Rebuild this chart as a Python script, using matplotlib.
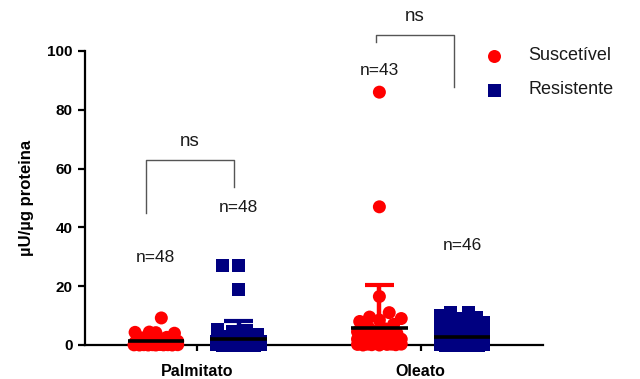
import numpy as np
import matplotlib
matplotlib.use("Agg")
import matplotlib.pyplot as plt
from matplotlib.lines import Line2D

plt.rcParams['font.family'] = ['Liberation Sans', 'DejaVu Sans']

# ---- data -----------------------------------------------------------------
categories = ["Palmitato", "Oleato"]
series_names = ["Suscetível", "Resistente"]
series_colors = ["#FF0000", "#000080"]
series_markers = ["o", "s"]

palmitato_suscetivel = [9.2, 4.4, 4.2, 4.0, 4.3, 2.6, 2.4, 2.2, 2.0, 1.9,
                        1.8, 1.7, 1.6, 1.5, 1.4, 1.3, 1.2, 1.1, 1.0, 1.0,
                        0.9, 0.9, 0.8, 0.8, 0.7, 0.7, 0.6, 0.6, 0.5, 0.5,
                        0.4, 0.4, 0.3, 0.3, 0.3, 0.2, 0.2, 0.2, 0.1, 0.1,
                        0.1, 0.1, 0.05, 0.05, 0.0, 0.0, 0.0, 0.0]
palmitato_resistente = [27.0, 27.0, 19.0, 5.2, 5.0, 4.6, 4.0, 3.5, 3.0, 2.6,
                        2.4, 2.2, 2.0, 1.9, 1.8, 1.6, 1.5, 1.4, 1.3, 1.2,
                        1.1, 1.0, 0.9, 0.9, 0.8, 0.7, 0.7, 0.6, 0.5, 0.5,
                        0.4, 0.4, 0.3, 0.3, 0.2, 0.2, 0.2, 0.1, 0.1, 0.1,
                        0.05, 0.05, 0.05, 0.0, 0.0, 0.0, 0.0, 0.0]
oleato_suscetivel = [86.0, 47.0, 16.5, 11.0, 9.5, 9.0, 8.5, 8.0, 7.0, 6.0,
                     5.5, 5.0, 4.5, 4.0, 3.5, 3.0, 3.0, 2.5, 2.5, 2.0,
                     2.0, 2.0, 1.5, 1.5, 1.5, 1.0, 1.0, 1.0, 1.0, 0.8,
                     0.8, 0.5, 0.5, 0.5, 0.3, 0.3, 0.3, 0.2, 0.2, 0.1,
                     0.1, 0.0, 0.0]
oleato_resistente = [11.0, 11.0, 10.0, 9.5, 9.0, 8.5, 8.0, 7.5, 7.0, 6.5,
                     6.0, 5.5, 5.0, 5.0, 4.5, 4.0, 4.0, 3.5, 3.0, 3.0,
                     2.5, 2.5, 2.0, 2.0, 1.5, 1.5, 1.0, 1.0, 1.0, 0.8,
                     0.8, 0.5, 0.5, 0.5, 0.3, 0.3, 0.2, 0.2, 0.1, 0.1,
                     0.1, 0.0, 0.0, 0.0, 0.0, 0.0]

# mean and SD (upper arm) per series: [Palmitato, Oleato]
mean_suscetivel = [1.2, 5.8]
sd_suscetivel = [0.0, 14.6]
mean_resistente = [2.0, 2.7]
sd_resistente = [6.2, 0.0]

n_suscetivel = ["n=48", "n=43"]
n_resistente = ["n=48", "n=46"]

values = [[palmitato_suscetivel, oleato_suscetivel],
          [palmitato_resistente, oleato_resistente]]
means = [mean_suscetivel, mean_resistente]
sds = [sd_suscetivel, sd_resistente]
n_labels = [n_suscetivel, n_resistente]

# ---- figure ---------------------------------------------------------------
fig = plt.figure(figsize=(6.4, 3.79), dpi=100)
ax = fig.add_axes([85 / 640, 34 / 379, 458 / 640, 294 / 379])
ax.set_xlim(-0.502, 1.547)
ax.set_ylim(0, 100)

px_per_x = 225.0           # pixels per category unit
px_per_y = 294 / 100.0     # pixels per y unit
offset = 0.185
marker_d = 13.0            # marker diameter in pixels


def swarm_offsets(vals, diam, half_width):
    """Greedy beeswarm in pixel space; returns x offsets in data units."""
    vals = np.asarray(vals, dtype=float)
    order = np.argsort(vals, kind="stable")
    cands = np.linspace(-half_width, half_width, 41)
    cands = cands[np.argsort(np.abs(cands), kind="stable")]
    min_d = 1.2 * diam
    placed = []
    out = np.zeros(len(vals))
    for i in order:
        y = vals[i] * px_per_y
        best = 0.0
        if placed:
            P = np.array(placed)
            best = None
            best_score = -1
            for c in cands:
                d = np.sqrt((P[:, 0] - c) ** 2 + (P[:, 1] - y) ** 2).min()
                if d >= min_d:
                    best = c
                    break
                if d > best_score + 0.5:
                    best_score, fallback = d, c
            if best is None:
                best = fallback
        placed.append((best, y))
        out[i] = best / px_per_x
    return out


for s in range(2):
    for c in range(2):
        vals = values[s][c]
        xc = c + (-offset if s == 0 else offset)
        dx = swarm_offsets(vals, marker_d, 22)
        ax.scatter(xc + dx, vals, s=(marker_d * 0.72) ** 2,
                   marker=series_markers[s], color=series_colors[s],
                   edgecolors="none", zorder=3, clip_on=False)
        m, sd = means[s][c], sds[s][c]
        if sd > 0:
            ax.plot([xc, xc], [m, m + sd], color=series_colors[s],
                    lw=3.2, zorder=4, solid_capstyle="butt")
            ax.plot([xc - 0.064, xc + 0.064], [m + sd, m + sd],
                    color=series_colors[s], lw=3.0, zorder=4,
                    solid_capstyle="butt")
        ax.plot([xc - 0.126, xc + 0.126], [m, m], color="black", lw=2.6,
                zorder=5, solid_capstyle="butt")

# n labels above each group
n_label_y = [[29.6, 93.2], [46.6, 34.0]]
for s in range(2):
    for c in range(2):
        xc = c + (-offset if s == 0 else offset)
        ax.text(xc, n_label_y[s][c], n_labels[s][c], ha="center",
                va="center", fontsize=12.5, color="#1a1a1a")

# significance brackets
bracket_color = "#555555"
brackets = [
    # x_left, x_right, y_left_bottom, y_right_bottom, y_top
    (-0.231, 0.164, 44.9, 53.7, 62.9),
    (0.800, 1.147, 103.1, 87.8, 105.4),
]
for xl, xr, yl, yr, yt in brackets:
    ax.plot([xl, xl, xr, xr], [yl, yt, yt, yr], color=bracket_color,
            lw=1.0, clip_on=False, zorder=2)
    ax.text((xl + xr) / 2, yt + 3.5, "ns", ha="center", va="bottom",
            fontsize=13.5, color="#1a1a1a", clip_on=False)

# axes styling
for side in ("top", "right"):
    ax.spines[side].set_visible(False)
for side in ("left", "bottom"):
    ax.spines[side].set_linewidth(1.6)
ax.set_yticks([0, 20, 40, 60, 80, 100])
ax.set_xticks([0, 1])
ax.set_xticklabels(categories)
ax.tick_params(axis="y", length=5, width=1.6, labelsize=11, pad=4)
ax.tick_params(axis="x", length=4.5, width=1.6, labelsize=11.5, pad=9)
for lab in ax.get_yticklabels() + ax.get_xticklabels():
    lab.set_fontweight("bold")
ax.set_ylabel("µU/µg proteina", fontsize=12, fontweight="bold", labelpad=9)

# legend
leg_y = [56, 90]
for s in range(2):
    yf = 1 - leg_y[s] / 379
    fig.add_artist(Line2D([494 / 640], [yf], marker=series_markers[s],
                          markersize=marker_d * 0.72, color=series_colors[s],
                          markeredgewidth=0, linestyle="none",
                          transform=fig.transFigure))
    fig.text(528 / 640, yf, series_names[s], ha="left", va="center",
             fontsize=13, color="#1a1a1a")

fig.savefig("out.png", dpi=100)
